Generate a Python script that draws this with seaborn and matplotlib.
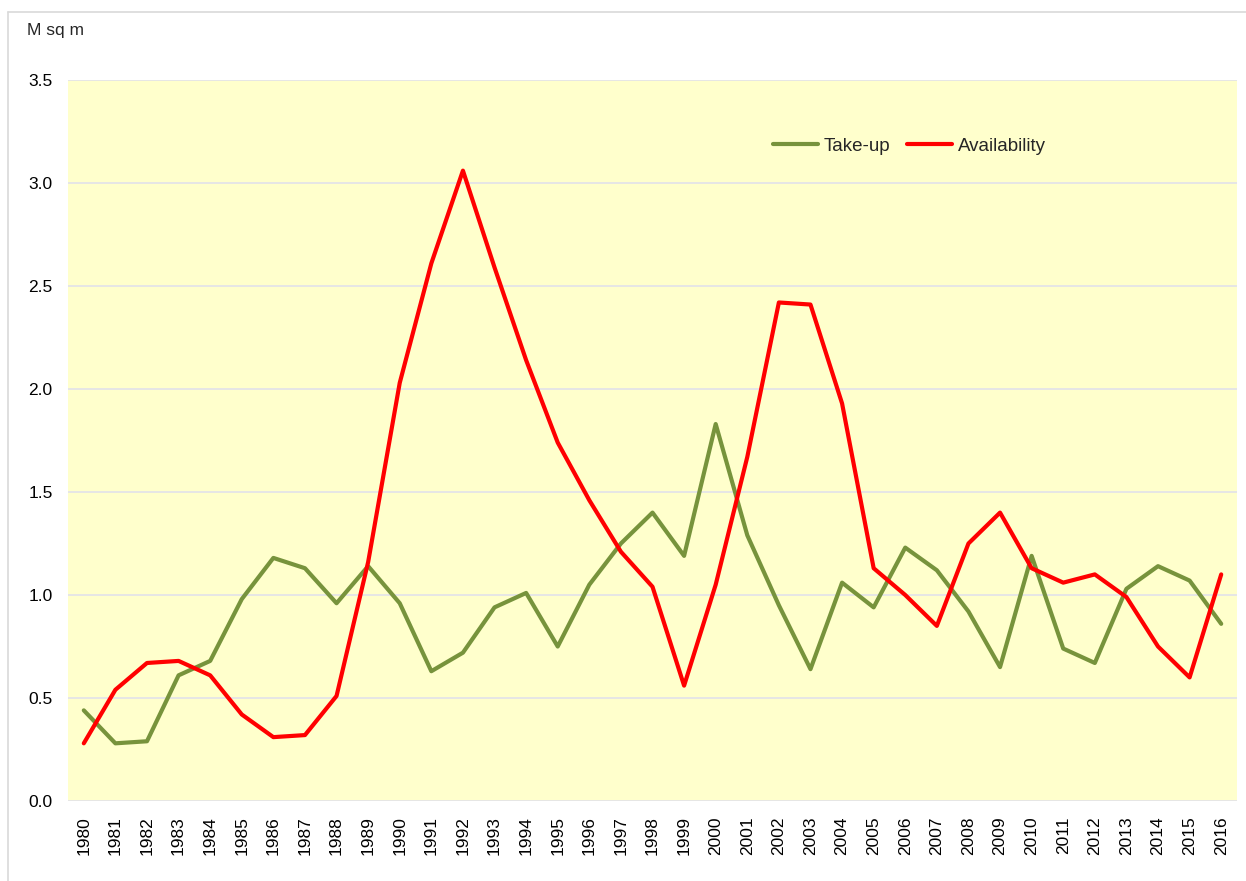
import numpy as np
import pandas as pd
import seaborn as sns
import matplotlib.pyplot as plt
from matplotlib.lines import Line2D

# Datos (millones de m2)
years = list(range(1980, 2017))
take_up = [0.44, 0.28, 0.29, 0.61, 0.68, 0.98, 1.18, 1.13, 0.96, 1.14,
           0.96, 0.63, 0.72, 0.94, 1.01, 0.75, 1.05, 1.25, 1.40, 1.19,
           1.83, 1.29, 0.95, 0.64, 1.06, 0.94, 1.23, 1.12, 0.92, 0.65,
           1.19, 0.74, 0.67, 1.03, 1.14, 1.07, 0.86]
availability = [0.28, 0.54, 0.67, 0.68, 0.61, 0.42, 0.31, 0.32, 0.51, 1.16,
                 2.03, 2.61, 3.06, 2.59, 2.14, 1.74, 1.46, 1.21, 1.04, 0.56,
                 1.05, 1.67, 2.42, 2.41, 1.93, 1.13, 1.00, 0.85, 1.25, 1.40,
                 1.13, 1.06, 1.10, 0.99, 0.75, 0.60, 1.10]
series_names = ["Take-up", "Availability"]
series_colors = ["#77933C", "#FF0000"]
y_ticks = [0.0, 0.5, 1.0, 1.5, 2.0, 2.5, 3.0, 3.5]

df = pd.DataFrame({
    "pos": list(range(len(years))) * 2,
    "value": take_up + availability,
    "series": [series_names[0]] * len(years) + [series_names[1]] * len(years),
})

sns.set_theme(style="white")
plt.rcParams['font.family'] = ['Liberation Sans', 'DejaVu Sans']

fig = plt.figure(figsize=(12.46, 8.81), dpi=100)
ax = fig.add_axes([68 / 1246, 80 / 881, 1169 / 1246, 721 / 881])
ax.set_facecolor("#FFFFCC")

sns.lineplot(data=df, x="pos", y="value", hue="series", hue_order=series_names,
             palette=series_colors, linewidth=3.0, ax=ax, legend=True)

ax.set_xlim(-0.5, len(years) - 0.5)
ax.set_ylim(0, 3.5)
ax.set_xticks(range(len(years)))
ax.set_xticklabels([str(y) for y in years], rotation=90)
ax.set_yticks(y_ticks)
ax.set_yticklabels([f"{v:.1f}" for v in y_ticks])
ax.tick_params(axis='both', length=0, labelsize=12.5, colors="#000000", pad=11)
ax.set_xlabel("")
ax.set_ylabel("")
ax.yaxis.grid(True, color="#E2E2EA", linewidth=1.2)
ax.xaxis.grid(False)
ax.set_axisbelow(True)
for s in ax.spines.values():
    s.set_visible(False)

leg = ax.legend(loc="center", bbox_to_anchor=(0.72, 0.908), ncol=2, frameon=False,
                fontsize=13.5, handlelength=2.4, columnspacing=0.9, handletextpad=0.3)

fig.text(27 / 1246, 1 - 30 / 881, "M sq m", fontsize=12.5, va="center", ha="left")

# Marco exterior gris claro (solo borde superior e izquierdo visibles)
y_top = 1 - 11.5 / 881
x_left = 7.5 / 1246
fig.add_artist(Line2D([x_left, 1.0], [y_top, y_top], transform=fig.transFigure,
                      color="#D9D9D9", linewidth=1.2))
fig.add_artist(Line2D([x_left, x_left], [0.0, y_top], transform=fig.transFigure,
                      color="#D9D9D9", linewidth=1.2))

plt.savefig("out.png", dpi=100)
plt.close()
